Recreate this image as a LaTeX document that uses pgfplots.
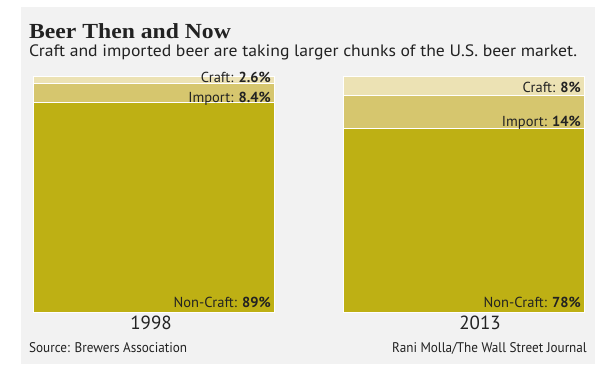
\documentclass[border=0pt]{standalone}
\usepackage{pgfplots}
\pgfplotsset{compat=1.18}
\usepackage{fontspec}
\setmainfont{PT Sans}
\newfontfamily\titlefont[FakeStretch=1.1]{Liberation Serif}
\newfontfamily\subfont[FakeStretch=1.07]{PT Sans}
\newfontfamily\srcfont[FakeStretch=0.94]{PT Sans}
\definecolor{panel}{HTML}{F2F2F2}
\definecolor{noncraft}{HTML}{BEB014}
\definecolor{import}{HTML}{D6C66E}
\definecolor{craft}{HTML}{ECE2B4}
\definecolor{txt}{HTML}{222222}
\begin{document}
\begin{tikzpicture}[x=1pt,y=1pt]
\useasboundingbox (0,0) rectangle (602,382);
\fill[white] (0,0) rectangle (602,382);
\fill[panel] (21,18) rectangle (595,375);
% title & subtitle
\node[anchor=base west,inner sep=0,text=txt] at (29,343) {\titlefont\bfseries\fontsize{21.5}{22}\selectfont Beer Then and Now};
\node[anchor=base west,inner sep=0,text=txt] at (29,325) {\subfont\fontsize{16.5}{17}\selectfont Craft and imported beer are taking larger chunks of the U.S. beer market.};
\begin{axis}[
  at={(21pt,69pt)}, anchor=south west,
  scale only axis, width=574pt, height=236pt,
  xmin=21, xmax=595, ymin=0, ymax=100,
  hide axis, clip=false,
  ybar stacked, bar width=241, bar shift=0pt,
]
\addplot[fill=noncraft, draw=white, line width=1pt] coordinates {(153.5,89) (463.5,78)};
\addplot[fill=import, draw=white, line width=1pt] coordinates {(153.5,8.4) (463.5,14)};
\addplot[fill=craft, draw=white, line width=1pt] coordinates {(153.5,2.6) (463.5,8)};
\end{axis}
\begin{scope}[every node/.style={anchor=base east,inner sep=0,text=txt,font=\fontsize{14.5}{15}\selectfont}]
\node at (271,299) {Craft: \textbf{2.6\%}};
\node at (271,279) {Import: \textbf{8.4\%}};
\node at (271,74) {Non-Craft: \textbf{89\%}};
\node at (581,289) {Craft: \textbf{8\%}};
\node at (581,255) {Import: \textbf{14\%}};
\node at (581,74) {Non-Craft: \textbf{78\%}};
\end{scope}
\node[anchor=base,inner sep=0,text=txt] at (151,52) {\fontsize{19}{19}\selectfont 1998};
\node[anchor=base,inner sep=0,text=txt] at (480,52) {\fontsize{19}{19}\selectfont 2013};
\node[anchor=base west,inner sep=0,text=txt] at (29,29) {\srcfont\fontsize{14}{14}\selectfont Source: Brewers Association};
\node[anchor=base east,inner sep=0,text=txt] at (587,29) {\srcfont\fontsize{14}{14}\selectfont Rani Molla/The Wall Street Journal};
\end{tikzpicture}
\end{document}
